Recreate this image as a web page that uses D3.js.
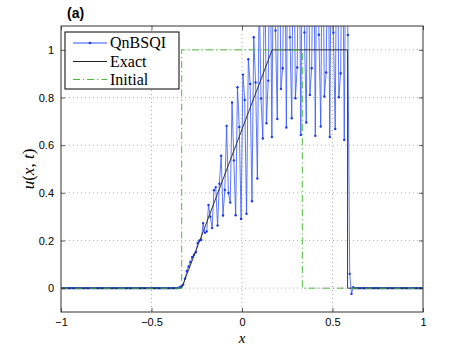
<!DOCTYPE html>
<meta charset="utf-8">
<head>
<script src="https://d3js.org/d3.v7.min.js"></script>
<style>
body { margin: 0; background: #fff; }
.tick text { font-family: "Liberation Sans", Arial, sans-serif; font-size: 11px; fill: #000; }
</style>
</head>
<body>
<div id="chart"></div>
<script>
// Burgers-type test: numerical (QnBSQI), exact and initial profiles
var xTicks = [-1, -0.5, 0, 0.5, 1];
var yTicks = [0, 0.2, 0.4, 0.6, 0.8, 1];

// exact solution breakpoints
var exactX = [-1, -0.3333, 0.1667, 0.5833, 0.5833, 1];
var exactU = [0, 0, 1, 1, 0, 0];

// initial condition breakpoints
var initX = [-1, -0.3333, -0.3333, 0.3333, 0.3333, 1];
var initU = [0, 0, 1, 1, 0, 0];

// QnBSQI values on 200 cell centres (-0.995 ... 0.995, step 0.01)
var gridStart = -0.995, gridStep = 0.01;
var qnU = [
  0, 0, 0, 0, 0, 0, 0, 0, 0, 0, 0, 0, 0, 0, 0, 0,
  0, 0, 0, 0, 0, 0, 0, 0, 0, 0, 0, 0, 0, 0, 0, 0,
  0, 0, 0, 0, 0, 0, 0, 0, 0, 0, 0, 0, 0, 0, 0, 0,
  0, 0, 0, 0, 0, 0, 0, 0, 0, 0, 0, 0, 0, 0, 0, 0,
  0, 0.004, 0.008, 0.015, 0.040, 0.072, 0.091, 0.110, 0.131, 0.140,
  0.151, 0.190, 0.200, 0.202, 0.273, 0.232, 0.238, 0.349, 0.300, 0.252,
  0.411, 0.424, 0.263, 0.438, 0.556, 0.305, 0.412, 0.681, 0.399, 0.359,
  0.779, 0.536, 0.306, 0.843, 0.676, 0.290, 0.896, 0.790, 0.312, 0.961,
  0.857, 0.365, 1.053, 0.863, 0.460, 1.25, 0.796, 0.628, 1.45, 0.692,
  0.871, 1.55, 0.634, 1.6, 1.081, 0.710, 1.7, 0.836, 0.923, 1.65,
  0.674, 1.7, 1.053, 0.713, 1.7, 0.797, 0.926, 1.65, 0.643, 1.7,
  1.073, 0.695, 1.7, 0.811, 0.923, 1.65, 0.639, 1.7, 1.063, 0.678,
  1.7, 0.804, 0.905, 1.65, 0.634, 1.7, 1.073, 0.668, 1.7, 0.801,
  0.902, 1.65, 0.622, 1.7, 1.062, 0.060, -0.024, 0.004, 0,
  0, 0, 0, 0, 0, 0, 0, 0, 0, 0, 0, 0, 0, 0, 0, 0,
  0, 0, 0, 0, 0, 0, 0, 0, 0, 0, 0, 0, 0, 0, 0, 0,
  0, 0, 0, 0, 0
];
var qnX = qnU.map(function(d, i) { return gridStart + i * gridStep; });

var legendLabels = ["QnBSQI", "Exact", "Initial"];

var W = 467, H = 352;
var margin = {top: 26, right: 44, bottom: 40, left: 61};
var width = W - margin.left - margin.right,
    height = H - margin.top - margin.bottom;

var svg = d3.select("#chart").append("svg")
    .attr("width", W).attr("height", H);

var g = svg.append("g")
    .attr("transform", "translate(" + margin.left + "," + margin.top + ")");

var x = d3.scaleLinear().domain([-1, 1]).range([0, width]);
var y = d3.scaleLinear().domain([-0.1, 1.1]).range([height, 0]);

// grid
g.selectAll(".vgrid").data(xTicks.slice(1, -1)).enter().append("line")
    .attr("x1", function(d) { return x(d); }).attr("x2", function(d) { return x(d); })
    .attr("y1", 0).attr("y2", height)
    .attr("stroke", "#999").attr("stroke-width", 0.8).attr("stroke-dasharray", "1,3");
g.selectAll(".hgrid").data(yTicks).enter().append("line")
    .attr("x1", 0).attr("x2", width)
    .attr("y1", function(d) { return y(d); }).attr("y2", function(d) { return y(d); })
    .attr("stroke", "#999").attr("stroke-width", 0.8).attr("stroke-dasharray", "1,3");

g.append("clipPath").attr("id", "clip").append("rect")
    .attr("width", width).attr("height", height);

var plot = g.append("g").attr("clip-path", "url(#clip)");

var line = d3.line()
    .x(function(d) { return x(d[0]); })
    .y(function(d) { return y(d[1]); });

var qnData = d3.zip(qnX, qnU);
plot.append("path").datum(qnData)
    .attr("d", line).attr("fill", "none")
    .attr("stroke", "#3355ff").attr("stroke-width", 0.8);
plot.selectAll(".dot").data(qnData).enter().append("circle")
    .attr("cx", function(d) { return x(d[0]); })
    .attr("cy", function(d) { return y(d[1]); })
    .attr("r", 1.2).attr("fill", "#1a3af0");

plot.append("path").datum(d3.zip(exactX, exactU))
    .attr("d", line).attr("fill", "none")
    .attr("stroke", "#222").attr("stroke-width", 0.9);

plot.append("path").datum(d3.zip(initX, initU))
    .attr("d", line).attr("fill", "none")
    .attr("stroke", "#4cbb3c").attr("stroke-width", 1)
    .attr("stroke-dasharray", "7,3,1.2,3");

// axes
var fmt = function(d) { return d < 0 ? "\u2212" + Math.abs(d) : String(d); };
g.append("g").attr("transform", "translate(0," + height + ")")
    .call(d3.axisBottom(x).tickValues(xTicks).tickSizeInner(-4).tickSizeOuter(0).tickPadding(6).tickFormat(fmt))
    .call(function(s) { s.select(".domain").remove(); });
g.append("g")
    .call(d3.axisLeft(y).tickValues(yTicks).tickSizeInner(-4).tickSizeOuter(0).tickPadding(7).tickFormat(fmt))
    .call(function(s) { s.select(".domain").remove(); });
g.append("g")
    .call(d3.axisTop(x).tickValues(xTicks).tickSizeInner(-4).tickSizeOuter(0).tickFormat(""))
    .call(function(s) { s.select(".domain").remove(); });
g.append("g").attr("transform", "translate(" + width + ",0)")
    .call(d3.axisRight(y).tickValues(yTicks).tickSizeInner(-4).tickSizeOuter(0).tickFormat(""))
    .call(function(s) { s.select(".domain").remove(); });
g.selectAll(".tick line").attr("stroke", "#333").attr("stroke-width", 0.8);

g.append("rect").attr("width", width).attr("height", height)
    .attr("fill", "none").attr("stroke", "#333").attr("stroke-width", 1);

// labels
svg.append("text").attr("x", margin.left + x(0)).attr("y", 343)
    .attr("text-anchor", "middle")
    .style("font-family", "Liberation Serif, serif").style("font-style", "italic").style("font-size", "15px")
    .text("x");
svg.append("text")
    .attr("transform", "translate(34," + (margin.top + height / 2) + ") rotate(-90)")
    .attr("text-anchor", "middle")
    .style("font-family", "Liberation Serif, serif").style("font-size", "17px")
    .html('<tspan font-style="italic">u</tspan>(<tspan font-style="italic">x</tspan>, <tspan font-style="italic">t</tspan>)');
svg.append("text").attr("x", 67).attr("y", 18)
    .style("font-family", "Liberation Sans, Arial, sans-serif").style("font-weight", "bold").style("font-size", "14px")
    .text("(a)");

// legend
var leg = svg.append("g").attr("transform", "translate(65,32)");
leg.append("rect").attr("width", 114).attr("height", 57)
    .attr("fill", "#fff").attr("stroke", "#000").attr("stroke-width", 1);
var rowY = [11, 29.5, 47.5];
var legStyles = [
  {stroke: "#3355ff", dash: null},
  {stroke: "#222", dash: null},
  {stroke: "#4cbb3c", dash: "7,3,1.2,3"}
];
legendLabels.forEach(function(lab, i) {
  leg.append("line").attr("x1", 8).attr("x2", 42).attr("y1", rowY[i]).attr("y2", rowY[i])
      .attr("stroke", legStyles[i].stroke).attr("stroke-width", 1)
      .attr("stroke-dasharray", legStyles[i].dash);
  leg.append("text").attr("x", 45).attr("y", rowY[i] + 5)
      .style("font-family", "Liberation Serif, serif").style("font-size", "16px")
      .text(lab);
});
leg.append("circle").attr("cx", 25).attr("cy", rowY[0]).attr("r", 1.3).attr("fill", "#1a3af0");
</script>
</body>
</html>
